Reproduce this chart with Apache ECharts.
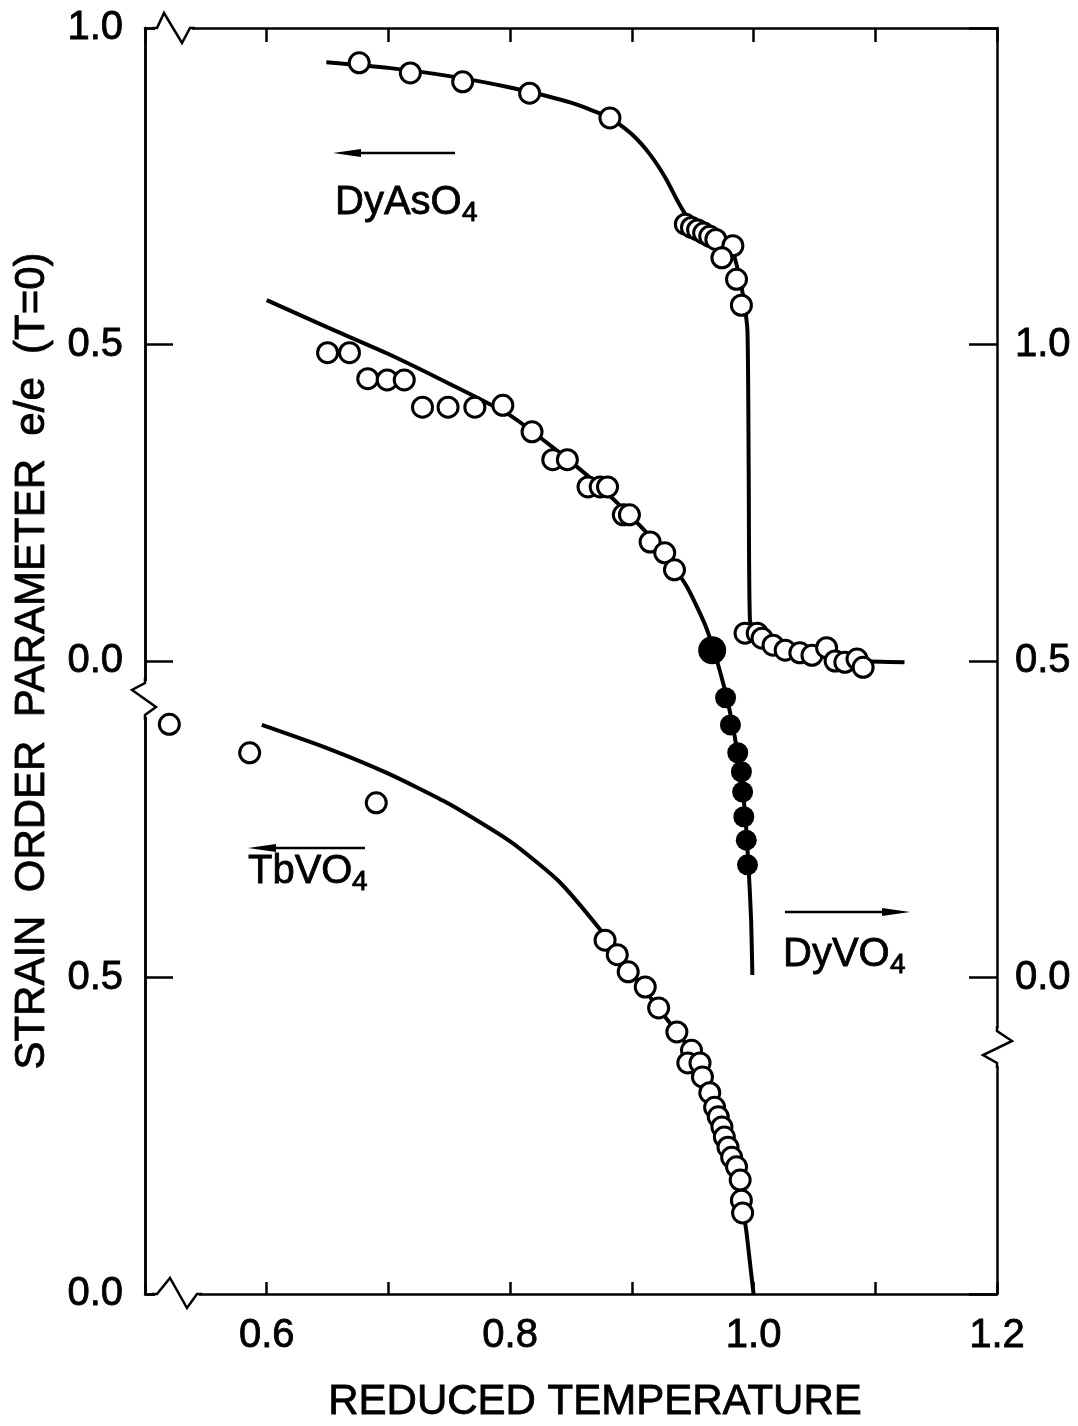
<!DOCTYPE html>
<html><head><meta charset="utf-8">
<script src="https://cdn.jsdelivr.net/npm/echarts@6/dist/echarts.min.js"></script>
<style>html,body{margin:0;padding:0;background:#fff}#c{width:1078px;height:1426px}</style>
</head><body><div id="c"></div>
<script>
const FONT = '"Liberation Sans", Arial, sans-serif';

// ---- tick labels ----
const xTickLabels = [0.6, 0.8, 1.0, 1.2];
const leftLowerTickLabels = [0.0, 0.5];       // TbVO4 scale
const leftUpperTickLabels = [0.0, 0.5, 1.0];  // DyAsO4 scale
const rightTickLabels = [0.0, 0.5, 1.0];      // DyVO4 scale

// ---- DyAsO4 (upper left scale) ----
const dyAsO4Points = [
  [0.676,0.945],[0.718,0.929],[0.761,0.915],[0.816,0.897],[0.882,0.858],
  [0.944,0.690],[0.949,0.685],[0.954,0.681],[0.959,0.676],[0.964,0.671],[0.969,0.666],
  [0.983,0.656],[0.974,0.637],[0.986,0.603],[0.990,0.562],
  [0.993,0.044],[1.003,0.044],[1.007,0.036],[1.016,0.025],[1.026,0.017],[1.038,0.013],
  [1.048,0.009],[1.060,0.021],[1.067,0.000],[1.075,-0.002],[1.085,0.003],[1.090,-0.010]
];
const dyAsO4Curve = [
  [0.649,0.946],[0.700,0.937],[0.750,0.924],[0.800,0.906],[0.850,0.882],[0.882,0.858],
  [0.900,0.832],[0.915,0.800],[0.928,0.762],[0.938,0.725],[0.946,0.700],[0.955,0.683],
  [0.965,0.671],[0.975,0.660],[0.983,0.645],[0.988,0.610],[0.992,0.570],[0.995,0.520],
  [0.996,0.300],[0.997,0.065],[1.001,0.046],[1.013,0.030],[1.038,0.014],[1.063,0.005],
  [1.087,0.000],[1.124,-0.002]
];

// ---- DyVO4 (right scale) ----
const dyVO4Open = [
  [0.650,0.987],[0.668,0.987],[0.683,0.946],[0.699,0.944],[0.713,0.944],[0.728,0.901],
  [0.749,0.901],[0.771,0.901],[0.794,0.904],[0.818,0.862],[0.835,0.818],[0.847,0.818],
  [0.864,0.775],[0.874,0.775],[0.880,0.775],[0.893,0.731],[0.898,0.731],[0.915,0.688],
  [0.927,0.671],[0.935,0.644]
];
const dyVO4FilledBig = [[0.966,0.517]];
const dyVO4Filled = [
  [0.977,0.442],[0.981,0.399],[0.987,0.355],[0.990,0.325],[0.991,0.293],[0.992,0.254],
  [0.994,0.217],[0.995,0.178]
];
const dyVO4Curve = [
  [0.600,1.070],[0.650,1.027],[0.700,0.985],[0.750,0.938],[0.800,0.888],[0.840,0.830],
  [0.870,0.782],[0.900,0.727],[0.925,0.675],[0.945,0.618],[0.960,0.558],[0.970,0.500],
  [0.980,0.425],[0.988,0.340],[0.993,0.260],[0.996,0.170],[0.998,0.090],[0.999,0.004]
];

// ---- TbVO4 (lower left scale) ----
const tbVO4Points = [
  [0.520,0.900],[0.586,0.855],[0.690,0.776],
  [0.878,0.559],[0.888,0.536],[0.897,0.509],[0.911,0.485],[0.922,0.452],[0.937,0.414],
  [0.949,0.385],[0.946,0.365],[0.956,0.365],[0.958,0.343],[0.964,0.318],[0.968,0.295],
  [0.971,0.280],[0.974,0.264],[0.976,0.248],[0.979,0.232],[0.982,0.216],[0.986,0.201],
  [0.989,0.180],[0.990,0.148],[0.991,0.128]
];
const tbVO4Curve = [
  [0.596,0.899],[0.650,0.862],[0.700,0.822],[0.750,0.774],[0.800,0.715],[0.840,0.652],
  [0.878,0.566],[0.900,0.508],[0.920,0.456],[0.937,0.414],[0.949,0.383],[0.960,0.337],
  [0.970,0.287],[0.978,0.240],[0.985,0.193],[0.990,0.150],[0.994,0.100],[0.997,0.050],
  [1.000,0.000]
];

const chart = echarts.init(document.getElementById('c'), null, {renderer: 'canvas'});

const G = {left: 145, right: 81, top: 28, bottom: 132};
const AX = {color: '#000', width: 2.5};
const near = (v, arr) => arr.some(a => Math.abs(a - v) < 1e-6);
const lbl = {fontSize: 40, color: '#000', fontFamily: FONT, textBorderColor: '#000', textBorderWidth: 0.8};

function yAxisDef(pos, min, max, labels, extra) {
  return Object.assign({
    type: 'value', position: pos, min: min, max: max, interval: 0.5,
    axisLine: {show: true, onZero: false, lineStyle: AX},
    axisTick: {show: true, inside: true, length: 28, lineStyle: AX},
    axisLabel: Object.assign({margin: 22, formatter: v => near(v, labels) ? v.toFixed(1) : ''}, lbl),
    splitLine: {show: false}
  }, extra || {});
}

const openSym = {color: '#fff', borderColor: '#000', borderWidth: 3, opacity: 1};
const filledSym = {color: '#000', opacity: 1};
const lineStyle = {color: '#000', width: 4};

function curve(data, yi) {
  return {type: 'line', data: data, xAxisIndex: 0, yAxisIndex: yi, symbol: 'none', smooth: 0.2,
    lineStyle: lineStyle, z: 2, silent: true};
}
function pts(data, yi, size, style) {
  return {type: 'scatter', data: data, xAxisIndex: 0, yAxisIndex: yi, symbol: 'circle',
    symbolSize: size, itemStyle: style, z: 3, silent: true};
}

// annotation helpers (layout only)
function arrow(x1, x2, y, dir) {
  const headLen = 28, half = 4;
  const tip = dir < 0 ? x1 : x2;
  const base = tip - dir * headLen;
  return [
    {type: 'line', z: 100, shape: dir < 0 ? {x1: base, y1: y, x2: x2, y2: y} : {x1: x1, y1: y, x2: base, y2: y},
      style: {stroke: '#000', lineWidth: 2.5}},
    {type: 'polygon', z: 100, shape: {points: [[tip, y], [base, y - half], [base, y + half]]}, style: {fill: '#000'}}
  ];
}
function chem(x, y, main, sub, mainW) {
  return [
    {type: 'text', z: 100, x: x, y: y, style: {text: main, font: '40px ' + FONT, fill: '#000', stroke: '#000', lineWidth: 0.8, textAlign: 'left', textVerticalAlign: 'middle'}},
    {type: 'text', z: 100, x: x + mainW, y: y + 10, style: {text: sub, font: '28px ' + FONT, fill: '#000', stroke: '#000', lineWidth: 0.8, textAlign: 'left', textVerticalAlign: 'middle'}}
  ];
}
function brk(maskShape, pts) {
  return [
    {type: 'line', z: 100, shape: maskShape, style: {stroke: '#fff', lineWidth: 7}},
    {type: 'polyline', z: 101, shape: {points: pts}, style: {stroke: '#000', lineWidth: 2.5, fill: null}}
  ];
}

const graphics = [].concat(
  brk({x1: 155, y1: 28, x2: 192, y2: 28}, [[152, 28], [157, 28], [164, 13], [182, 43], [190, 28], [195, 28]]),
  brk({x1: 155, y1: 1294, x2: 199, y2: 1294}, [[152, 1294], [157, 1294], [170, 1278], [187, 1308], [197, 1294], [202, 1294]]),
  brk({x1: 145, y1: 681, x2: 145, y2: 717}, [[145, 678], [145, 683], [132, 690], [156, 707], [145, 715], [145, 720]]),
  brk({x1: 997, y1: 1028, x2: 997, y2: 1066}, [[997, 1026], [997, 1031], [1012, 1041], [983, 1055], [997, 1063], [997, 1068]]),
  arrow(333, 455, 153, -1),
  chem(335, 203, 'DyAsO', '4', 127),
  arrow(248, 365, 848, -1),
  chem(248, 872, 'TbVO', '4', 104),
  arrow(785, 910, 912, 1),
  chem(783, 955, 'DyVO', '4', 107),
  [{type: 'text', z: 100, x: 595, y: 1402, style: {text: 'REDUCED TEMPERATURE', font: '42px ' + FONT, fill: '#000', stroke: '#000', lineWidth: 0.8, textAlign: 'center', textVerticalAlign: 'middle'}}]
);

const option = {
  animation: false,
  backgroundColor: '#fff',
  grid: G,
  xAxis: [
    {type: 'value', position: 'bottom', min: 0.5, max: 1.2, interval: 0.1,
      axisLine: {show: true, onZero: false, lineStyle: AX},
      axisTick: {show: true, inside: true, length: 12, lineStyle: AX},
      axisLabel: Object.assign({margin: 22, formatter: v => near(v, xTickLabels) ? v.toFixed(1) : ''}, lbl),
      splitLine: {show: false}},
    {type: 'value', position: 'top', min: 0.5, max: 1.2, interval: 0.1,
      axisLine: {show: true, onZero: false, lineStyle: AX},
      axisTick: {show: true, inside: true, length: 14, lineStyle: AX},
      axisLabel: {show: false}, splitLine: {show: false}}
  ],
  yAxis: [
    yAxisDef('left', 0, 2, leftLowerTickLabels, {
      name: 'STRAIN  ORDER  PARAMETER  e/e  (T=0)', nameLocation: 'middle', nameGap: 92,
      nameTextStyle: {fontSize: 42, color: '#000', fontFamily: FONT, textBorderColor: '#000', textBorderWidth: 0.8}}),
    yAxisDef('left', -1, 1, leftUpperTickLabels),
    yAxisDef('right', -0.5, 1.5, rightTickLabels, {axisLabel: Object.assign({margin: 18, formatter: v => near(v, rightTickLabels) ? v.toFixed(1) : ''}, lbl)})
  ],
  series: [
    curve(dyAsO4Curve, 1),
    curve(dyVO4Curve, 2),
    curve(tbVO4Curve, 0),
    pts(dyAsO4Points, 1, 20, openSym),
    pts(dyVO4Open, 2, 20, openSym),
    pts(dyVO4FilledBig, 2, 28, filledSym),
    pts(dyVO4Filled, 2, 21, filledSym),
    pts(tbVO4Points, 0, 20, openSym)
  ],
  graphic: {elements: graphics}
};
chart.setOption(option);
</script>
</body></html>
